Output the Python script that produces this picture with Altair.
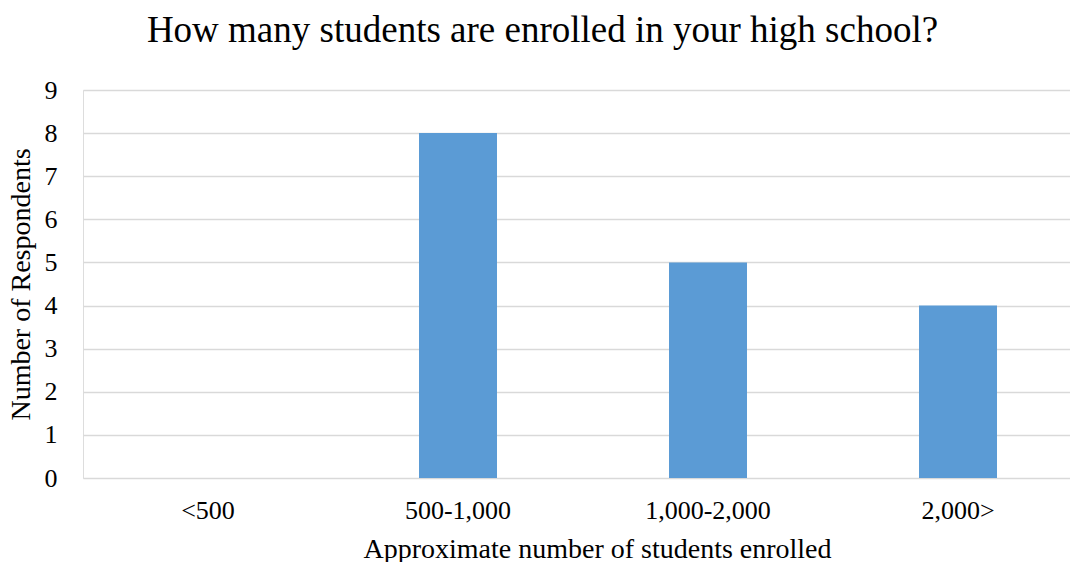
import altair as alt
import pandas as pd

categories = ["<500", "500-1,000", "1,000-2,000", "2,000>"]
respondents = [0, 8, 5, 4]

df = pd.DataFrame({"cat": categories, "n": respondents})

FONT = "Liberation Serif"

chart = alt.Chart(df).mark_bar(size=78, color="#5B9BD5").encode(
    x=alt.X("cat:N", sort=categories,
            scale=alt.Scale(paddingInner=0, paddingOuter=0, range=[0, 1000]),
            axis=alt.Axis(title="Approximate number of students enrolled", labelAngle=0,
                          labelFontSize=26, labelFont=FONT, labelColor="#000000",
                          titleFontSize=28, titleFont=FONT, titleColor="#000000",
                          titleFontWeight="normal", domain=False, ticks=False,
                          labelPadding=19, titlePadding=12, titleX=514)),
    y=alt.Y("n:Q", scale=alt.Scale(domain=[0, 9], nice=False),
            axis=alt.Axis(title="Number of Respondents", values=list(range(10)),
                          labelFontSize=26, labelFont=FONT, labelColor="#000000",
                          titleFontSize=28, titleFont=FONT, titleColor="#000000",
                          titleFontWeight="normal", domain=False, ticks=False,
                          labelPadding=26, titlePadding=9,
                          grid=True, gridColor="#d9d9d9", gridWidth=1.5)),
).properties(
    width=987, height=388,
    title=alt.TitleParams("How many students are enrolled in your high school?",
                          font=FONT, fontSize=37, fontWeight="normal", color="#000000",
                          anchor="middle", dx=-34, offset=27),
    autosize=alt.AutoSizeParams(type="none"),
    padding={"left": 83, "top": 90, "right": 0, "bottom": 84},
).configure_view(stroke=None).configure(background="#ffffff")

chart.save("out.html", embed_options={"renderer": "svg", "actions": False})
